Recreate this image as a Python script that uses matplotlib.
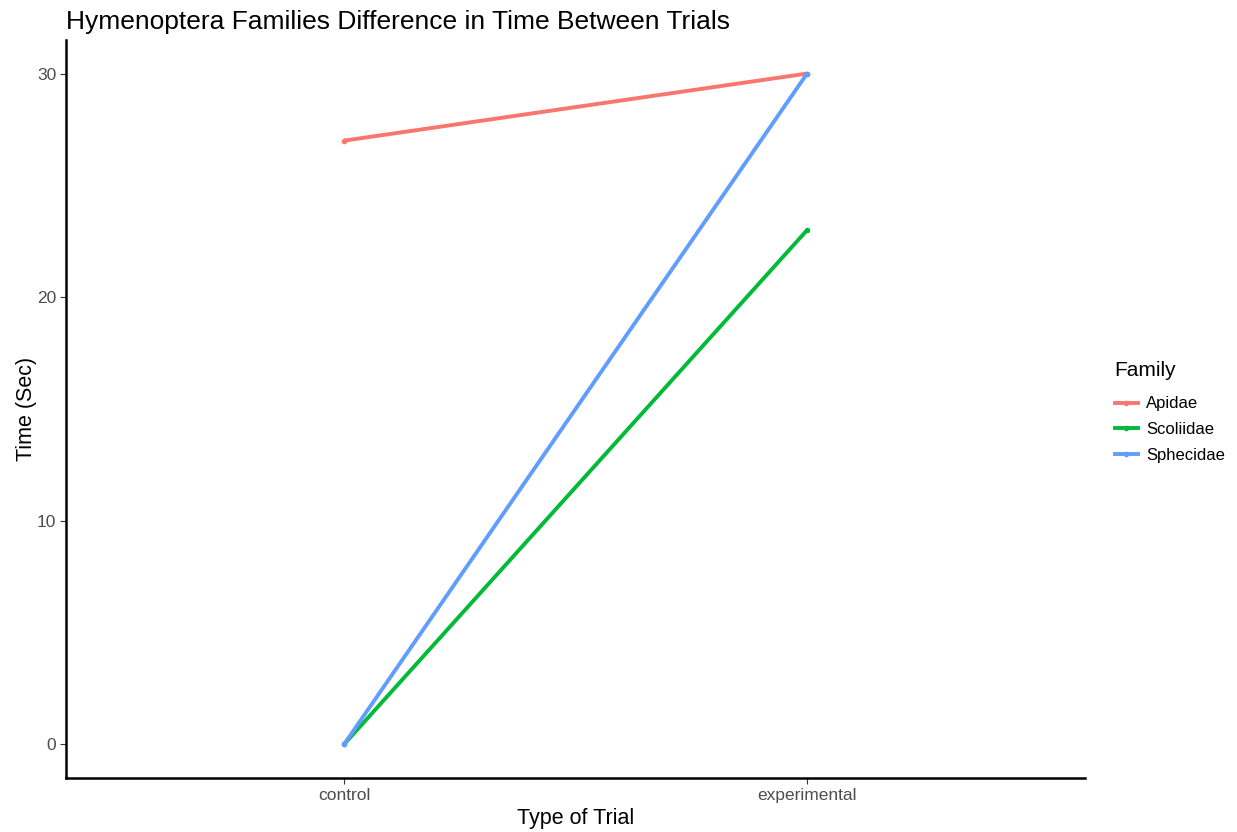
import matplotlib
matplotlib.use("Agg")
import matplotlib.pyplot as plt
from matplotlib.lines import Line2D

plt.rcParams['font.family'] = ['Liberation Sans', 'DejaVu Sans']

trials = ["control", "experimental"]
families = ["Apidae", "Scoliidae", "Sphecidae"]
apidae = [27, 30]
scoliidae = [0, 23]
sphecidae = [0, 30]
colors = ["#F8766D", "#00BA38", "#619CFF"]

fig = plt.figure(figsize=(12.37, 8.32), dpi=100)
ax = fig.add_axes([0.0534, 0.0649, 0.8237, 0.887])

xpos = [1, 2]
for vals, c in zip([apidae, scoliidae, sphecidae], colors):
    ax.plot(xpos, vals, color=c, lw=2.8, marker="o", ms=3, solid_capstyle="butt")

ax.set_xlim(0.4, 2.6)
ax.set_ylim(-1.5, 31.5)
ax.set_xticks(xpos)
ax.set_xticklabels(trials)
ax.set_yticks([0, 10, 20, 30])
for s in ["top", "right"]:
    ax.spines[s].set_visible(False)
for s in ["left", "bottom"]:
    ax.spines[s].set_linewidth(1.8)
ax.tick_params(length=4, width=0.8, color="#333333", labelcolor="#4D4D4D", labelsize=12.5, pad=3)

ax.set_xlabel("Type of Trial", fontsize=15.5, labelpad=4)
ax.set_ylabel("Time (Sec)", fontsize=15.5, labelpad=0)
fig.text(0.0534, 0.965, "Hymenoptera Families Difference in Time Between Trials", fontsize=19)

handles = [Line2D([], [], color=c, lw=2.8, marker="o", ms=3) for c in colors]
leg = fig.legend(handles, families, title="Family", loc="center left",
                 bbox_to_anchor=(0.889, 0.505), frameon=False, fontsize=12,
                 title_fontsize=15, handlelength=1.4, handletextpad=0.5,
                 labelspacing=0.65)
leg._legend_box.align = "left"
leg._legend_box.sep = 12

fig.savefig("out.png", dpi=100)
